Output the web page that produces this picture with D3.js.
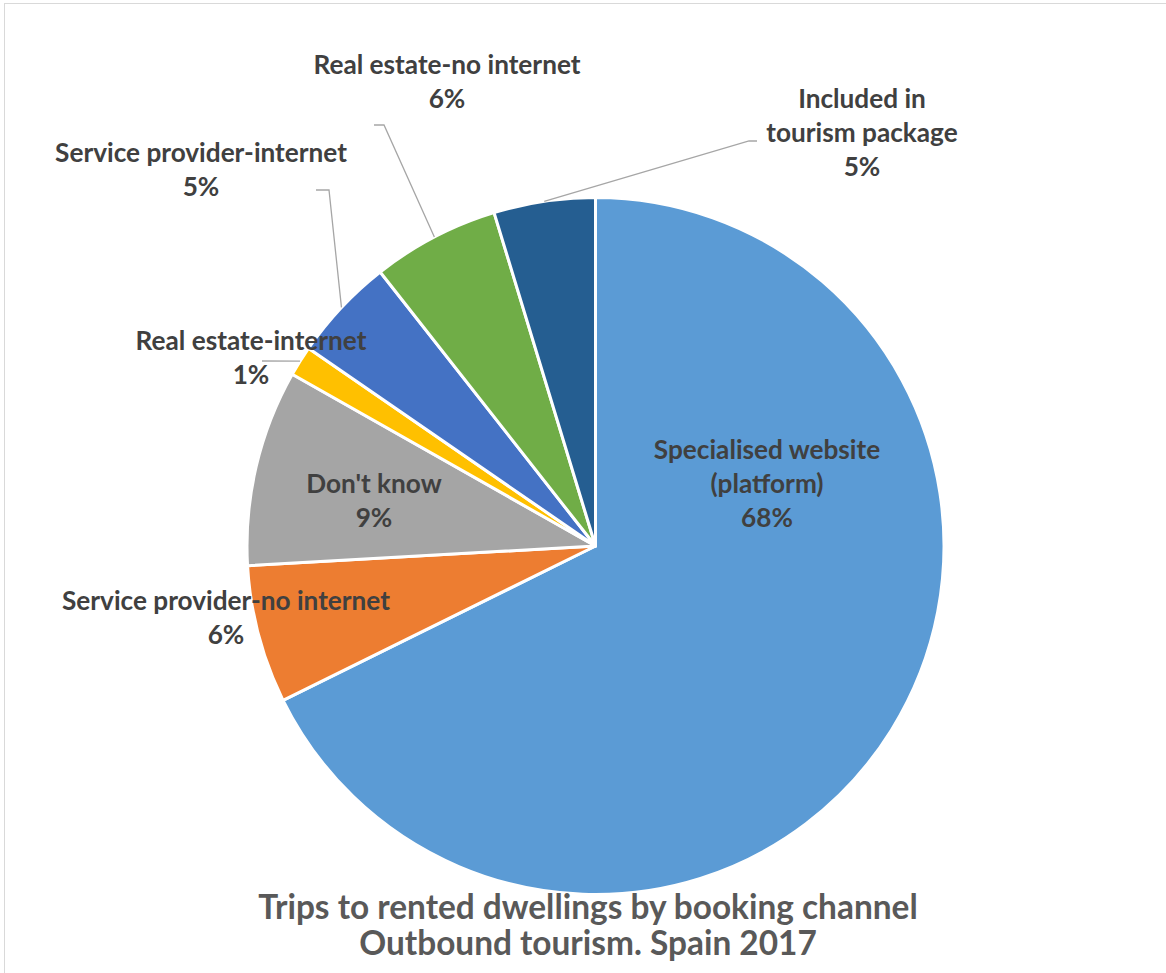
<!DOCTYPE html>
<html>
<head>
<meta charset="utf-8">
<script src="https://cdn.jsdelivr.net/npm/d3@7"></script>
<style>
  html, body { margin: 0; padding: 0; background: #fff; }
  svg { display: block; }
</style>
</head>
<body>
<svg id="chart" width="1166" height="973"></svg>
<script>
// Booking channels, clockwise from 12 o'clock
const categories = [
  "Specialised website (platform)",
  "Service provider-no internet",
  "Don't know",
  "Real estate-internet",
  "Service provider-internet",
  "Real estate-no internet",
  "Included in tourism package"
];
// Share of trips (%)
const shares = [67.7, 6.4, 9.1, 1.4, 4.8, 5.9, 4.7];
// Slice colours
const colors = ["#5B9BD5", "#ED7D31", "#A5A5A5", "#FFC000", "#4472C4", "#70AD47", "#255E91"];
// How each data label is broken into lines
const labelLines = [
  ["Specialised website", "(platform)"],
  ["Service provider-no internet"],
  ["Don't know"],
  ["Real estate-internet"],
  ["Service provider-internet"],
  ["Real estate-no internet"],
  ["Included in", "tourism package"]
];
const titleLines = ["Trips to rented dwellings by booking channel", "Outbound tourism. Spain 2017"];

// Layout
const cx = 595.5, cy = 546, radius = 348.5;
// Label block: centre x and baseline of first line
const labelPos = [
  [767, 459], [226, 610], [374, 493], [251, 350], [201, 162], [447, 74], [862, 108]
];
// Leader line starting points (label side); null = label sits on the slice
const leaderStart = [
  null, null, null,
  [[262, 361]],
  [[316, 190], [329, 190]],
  [[374, 125], [384, 125]],
  [[757, 141], [749, 141]]
];
const lineGap = 34;

const svg = d3.select("#chart");

// Chart area frame
svg.append("rect")
  .attr("x", 4.5).attr("y", 3.5)
  .attr("width", 1300).attr("height", 1100)
  .attr("fill", "#fff")
  .attr("stroke", "#D9D9D9").attr("stroke-width", 1);

const total = d3.sum(shares);
const pct = d3.format(".0%");
const data = categories.map((c, i) => ({ name: c, value: shares[i], i }));

const pie = d3.pie().sort(null).value(d => d.value).startAngle(0).endAngle(2 * Math.PI);
const arcs = pie(data);
const arc = d3.arc().innerRadius(0).outerRadius(radius);

const g = svg.append("g").attr("transform", `translate(${cx},${cy})`);
g.selectAll("path.slice")
  .data(arcs)
  .join("path")
  .attr("class", "slice")
  .attr("d", arc)
  .attr("fill", d => colors[d.data.i])
  .attr("stroke", "#fff")
  .attr("stroke-width", 3)
  .attr("stroke-linejoin", "round");

// Leader lines from the label to the middle of the slice's rim
const rimPoint = d => {
  const a = (d.startAngle + d.endAngle) / 2;
  return [cx + radius * Math.sin(a), cy - radius * Math.cos(a)];
};
const line = d3.line();
svg.selectAll("path.leader")
  .data(arcs.filter(d => leaderStart[d.data.i]))
  .join("path")
  .attr("class", "leader")
  .attr("d", d => line([...leaderStart[d.data.i], rimPoint(d)]))
  .attr("fill", "none")
  .attr("stroke", "#A6A6A6")
  .attr("stroke-width", 1.3);

// Data labels: category name plus percentage
const labels = svg.selectAll("text.label")
  .data(arcs)
  .join("text")
  .attr("class", "label")
  .attr("text-anchor", "middle")
  .attr("font-family", "Lato, 'Open Sans', sans-serif")
  .attr("font-weight", "bold")
  .attr("font-size", 26.2)
  .attr("fill", "#404040");
labels.each(function (d) {
  const [x, y] = labelPos[d.data.i];
  const lines = [...labelLines[d.data.i], pct(d.data.value / total)];
  d3.select(this).selectAll("tspan")
    .data(lines)
    .join("tspan")
    .attr("x", x)
    .attr("y", (_, k) => y + k * lineGap)
    .text(t => t);
});

// Title below the pie
svg.append("text")
  .attr("text-anchor", "middle")
  .attr("font-family", "Lato, 'Open Sans', sans-serif")
  .attr("font-weight", "bold")
  .attr("font-size", 33.4)
  .attr("fill", "#595959")
  .selectAll("tspan")
  .data(titleLines)
  .join("tspan")
  .attr("x", 588)
  .attr("y", (_, k) => 919 + k * 36)
  .text(t => t);
</script>
</body>
</html>
